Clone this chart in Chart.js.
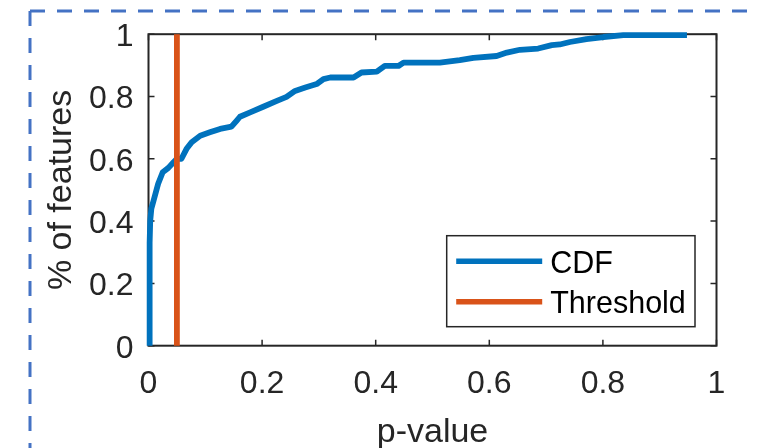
<!DOCTYPE html>
<html>
<head>
<meta charset="utf-8">
<script src="https://cdn.jsdelivr.net/npm/chart.js@4/dist/chart.umd.min.js"></script>
<style>
  html, body { margin: 0; padding: 0; background: #ffffff; }
  #wrap { width: 758px; height: 448px; position: relative; }
</style>
</head>
<body>
<div id="wrap"><canvas id="c" width="758" height="448"></canvas></div>
<script>
// ---- data ----
const cdfX = [0.002, 0.002, 0.003, 0.005, 0.009, 0.017, 0.025, 0.035, 0.044, 0.050, 0.058, 0.067, 0.076, 0.091, 0.108, 0.126, 0.146, 0.155, 0.161, 0.179, 0.202, 0.226, 0.243, 0.258, 0.276, 0.296, 0.308, 0.320, 0.361, 0.375, 0.402, 0.416, 0.440, 0.449, 0.513, 0.548, 0.572, 0.613, 0.631, 0.654, 0.686, 0.710, 0.724, 0.742, 0.771, 0.801, 0.836, 0.948];
const cdfY = [0, 0.33, 0.40, 0.44, 0.466, 0.52, 0.557, 0.571, 0.589, 0.600, 0.600, 0.632, 0.653, 0.674, 0.685, 0.696, 0.703, 0.722, 0.735, 0.749, 0.767, 0.786, 0.799, 0.818, 0.829, 0.840, 0.856, 0.861, 0.861, 0.877, 0.880, 0.898, 0.898, 0.909, 0.909, 0.917, 0.924, 0.930, 0.941, 0.950, 0.954, 0.965, 0.967, 0.975, 0.984, 0.991, 0.997, 0.997];
const thresholdX = [0.05, 0.05];
const thresholdY = [0, 1];
const tickValues = [0, 0.2, 0.4, 0.6, 0.8, 1];
const tickLabels = ['0', '0.2', '0.4', '0.6', '0.8', '1'];
const seriesNames = ['CDF', 'Threshold'];
const axisTitles = { x: 'p-value', y: '% of features' };

const FONT = '"Liberation Sans", Arial, sans-serif';
const BLUE = '#0072BD';
const ORANGE = '#D95319';
const AXIS = '#262626';

function pts(xs, ys) { return xs.map((x, i) => ({ x: x, y: ys[i] })); }

// dashed frame around the figure
const framePlugin = {
  id: 'frame',
  beforeDraw(chart) {
    const ctx = chart.ctx;
    ctx.save();
    ctx.strokeStyle = '#4472C4';
    ctx.lineWidth = 3;
    ctx.setLineDash([15, 12]);
    ctx.beginPath();
    ctx.moveTo(30, 11); ctx.lineTo(30, 470);
    ctx.stroke();
    ctx.beginPath();
    ctx.moveTo(30, 11); ctx.lineTo(780, 11);
    ctx.stroke();
    ctx.restore();
  }
};

// box + inward ticks on all four sides (MATLAB style)
const boxPlugin = {
  id: 'box',
  beforeDatasetsDraw(chart) {
    const { ctx, chartArea: a, scales } = chart;
    ctx.save();
    ctx.strokeStyle = AXIS;
    ctx.lineWidth = 1.5;
    const tl = 6;
    ctx.beginPath();
    scales.x.ticks.forEach(t => {
      const px = scales.x.getPixelForValue(t.value);
      ctx.moveTo(px, a.bottom); ctx.lineTo(px, a.bottom - tl);
      ctx.moveTo(px, a.top); ctx.lineTo(px, a.top + tl);
    });
    scales.y.ticks.forEach(t => {
      const py = scales.y.getPixelForValue(t.value);
      ctx.moveTo(a.left, py); ctx.lineTo(a.left + tl, py);
      ctx.moveTo(a.right, py); ctx.lineTo(a.right - tl, py);
    });
    ctx.stroke();
    ctx.lineWidth = 2;
    ctx.strokeRect(a.left, a.top, a.right - a.left, a.bottom - a.top);
    ctx.restore();
  }
};

// legend box in lower right of the axes
const legendPlugin = {
  id: 'boxLegend',
  afterDatasetsDraw(chart) {
    const { ctx, chartArea: a } = chart;
    const right = a.right - 21.5, bottom = a.bottom - 19;
    const w = 248.3, h = 91;
    const left = right - w, top = bottom - h;
    ctx.save();
    ctx.fillStyle = '#ffffff';
    ctx.fillRect(left, top, w, h);
    ctx.strokeStyle = AXIS;
    ctx.lineWidth = 1.5;
    ctx.strokeRect(left, top, w, h);
    const items = [
      { label: chart.data.datasets[0].label, color: chart.data.datasets[0].borderColor, y: top + 25.5, base: top + 37 },
      { label: chart.data.datasets[1].label, color: chart.data.datasets[1].borderColor, y: top + 66, base: top + 77.6 }
    ];
    ctx.font = '30.5px ' + FONT;
    ctx.textAlign = 'left';
    ctx.textBaseline = 'alphabetic';
    items.forEach(it => {
      ctx.strokeStyle = it.color;
      ctx.lineWidth = 5.5;
      ctx.beginPath();
      ctx.moveTo(left + 9.5, it.y); ctx.lineTo(left + 95.5, it.y);
      ctx.stroke();
      ctx.fillStyle = '#000000';
      ctx.fillText(it.label, left + 103.5, it.base);
    });
    ctx.restore();
  }
};

new Chart(document.getElementById('c'), {
  type: 'scatter',
  data: {
    datasets: [
      { label: seriesNames[0], data: pts(cdfX, cdfY), showLine: true, borderColor: BLUE, backgroundColor: BLUE,
        borderWidth: 5.8, pointRadius: 0, tension: 0, clip: 8, order: 1, borderJoinStyle: 'round' },
      { label: seriesNames[1], data: pts(thresholdX, thresholdY), showLine: true, borderColor: ORANGE, backgroundColor: ORANGE,
        borderWidth: 5.8, pointRadius: 0, tension: 0, clip: 8, order: 0 }
    ]
  },
  options: {
    responsive: false,
    devicePixelRatio: 1,
    animation: false,
    events: [],
    layout: { padding: { left: 0, top: 33.3, right: 41.5, bottom: 0 } },
    plugins: { legend: { display: false }, tooltip: { enabled: false }, title: { display: false } },
    scales: {
      x: {
        type: 'linear', min: 0, max: 1,
        afterBuildTicks: s => { s.ticks = tickValues.map(v => ({ value: v })); },
        afterFit: s => { s.height = 102.3; },
        grid: { display: false, drawTicks: false },
        border: { display: false },
        ticks: { autoSkip: false, maxRotation: 0, padding: 19.5, color: AXIS,
                 font: { family: FONT, size: 32 },
                 callback: (v, i) => tickLabels[i] },
        title: { display: true, text: axisTitles.x, color: AXIS,
                 font: { family: FONT, size: 34, lineHeight: 0.9 }, padding: { top: 0, bottom: 0.5 } }
      },
      y: {
        type: 'linear', min: 0, max: 1,
        afterBuildTicks: s => { s.ticks = tickValues.map(v => ({ value: v })); },
        afterFit: s => { s.width = 148.5; },
        grid: { display: false, drawTicks: false },
        border: { display: false },
        ticks: { autoSkip: false, padding: 15, labelOffset: 3, color: AXIS,
                 font: { family: FONT, size: 32 },
                 callback: (v, i) => tickLabels[i] },
        title: { display: true, text: axisTitles.y, color: AXIS,
                 font: { family: FONT, size: 34, lineHeight: 1.2 }, padding: { top: 41, bottom: 0 } }
      }
    }
  },
  plugins: [framePlugin, boxPlugin, legendPlugin]
});
</script>
</body>
</html>
